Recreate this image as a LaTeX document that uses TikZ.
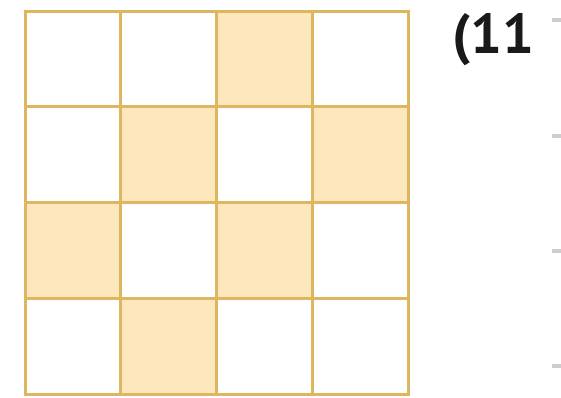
\documentclass[tikz,border=0pt]{standalone}
\usepackage{fontspec}
\setsansfont{PT Sans}
\definecolor{gridgold}{RGB}{222,182,96}
\definecolor{cellfill}{RGB}{254,231,188}
\definecolor{tickgray}{RGB}{205,205,205}
\usetikzlibrary{positioning}

\begin{document}
\begin{tikzpicture}[
    x=0.02cm, y=-0.02cm,
    cell/.style={draw=gridgold, line width=3*0.02cm, minimum size=95.75*0.02cm, inner sep=0pt, outer sep=0pt},
    lit/.style={cell, fill=cellfill},
    tick/.style={draw=tickgray, line width=4.5*0.02cm},
    num/.style={font=\sffamily\bfseries\fontsize{32}{32}\selectfont, text=black!90, inner sep=0pt, anchor=west}
]
    \useasboundingbox (0,0) rectangle (561,397);

    % Grid of cells (row, column)
    \foreach \r in {1,...,4}
        \foreach \c in {1,...,4}
            \node[cell] (c\r\c) at ({25+95.75*(\c-0.5)}, {11+95.75*(\r-0.5)}) {};

    % Shaded cells
    \foreach \r/\c in {1/3, 2/2, 2/4, 3/1, 3/3, 4/2}
        \node[lit] at (c\r\c) {};

    % Problem number
    \node[num] (label) at (452, 40) {(11};

    % Answer-line stubs
    \foreach \y in {20, 136, 251, 366}
        \draw[tick] (552, \y) -- (561, \y);
\end{tikzpicture}
\end{document}
